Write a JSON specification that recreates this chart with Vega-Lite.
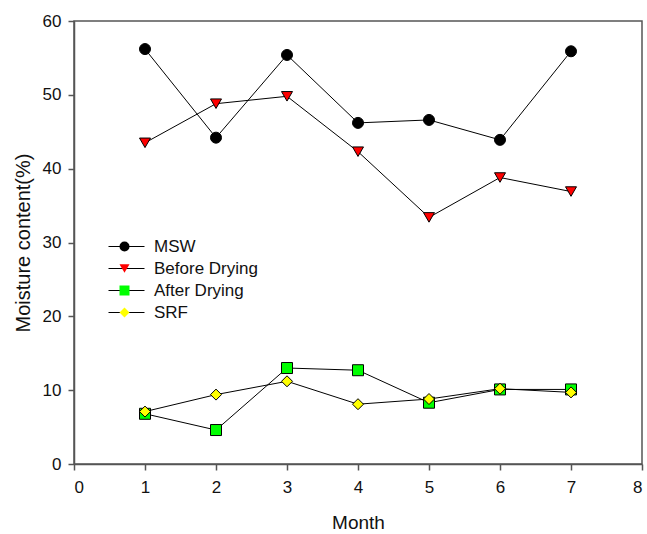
{
  "$schema": "https://vega.github.io/schema/vega-lite/v6.json",
  "width": 568,
  "height": 443,
  "autosize": {"type": "none"},
  "padding": {"left": 74, "top": 21, "right": 5, "bottom": 70},
  "config": {
    "font": "Liberation Sans",
    "view": {"stroke": "#555555", "strokeWidth": 1.5},
    "axis": {
      "grid": false,
      "domainColor": "#555555",
      "domainWidth": 1.5,
      "tickColor": "#555555",
      "tickWidth": 1.5,
      "tickSize": 6,
      "labelFont": "Liberation Sans",
      "labelFontSize": 17,
      "labelColor": "#111111",
      "titleFont": "Liberation Sans",
      "titleFontWeight": "normal",
      "titleColor": "#111111"
    },
    "legend": {
      "orient": "none",
      "padding": 0,
      "rowPadding": 4,
      "labelFont": "Liberation Sans",
      "labelFontSize": 17,
      "labelColor": "#111111"
    }
  },
  "data": {
    "values": [
      {"month": 1, "series": "MSW", "value": 56.2},
      {"month": 2, "series": "MSW", "value": 44.2},
      {"month": 3, "series": "MSW", "value": 55.4},
      {"month": 4, "series": "MSW", "value": 46.2},
      {"month": 5, "series": "MSW", "value": 46.6},
      {"month": 6, "series": "MSW", "value": 43.9},
      {"month": 7, "series": "MSW", "value": 55.9},
      {"month": 1, "series": "Before Drying", "value": 43.5},
      {"month": 2, "series": "Before Drying", "value": 48.8},
      {"month": 3, "series": "Before Drying", "value": 49.8},
      {"month": 4, "series": "Before Drying", "value": 42.3},
      {"month": 5, "series": "Before Drying", "value": 33.4},
      {"month": 6, "series": "Before Drying", "value": 38.8},
      {"month": 7, "series": "Before Drying", "value": 36.9},
      {"month": 1, "series": "After Drying", "value": 6.8},
      {"month": 2, "series": "After Drying", "value": 4.6},
      {"month": 3, "series": "After Drying", "value": 13.0},
      {"month": 4, "series": "After Drying", "value": 12.7},
      {"month": 5, "series": "After Drying", "value": 8.3},
      {"month": 6, "series": "After Drying", "value": 10.1},
      {"month": 7, "series": "After Drying", "value": 10.1},
      {"month": 1, "series": "SRF", "value": 7.1},
      {"month": 2, "series": "SRF", "value": 9.4},
      {"month": 3, "series": "SRF", "value": 11.2},
      {"month": 4, "series": "SRF", "value": 8.1},
      {"month": 5, "series": "SRF", "value": 8.8},
      {"month": 6, "series": "SRF", "value": 10.2},
      {"month": 7, "series": "SRF", "value": 9.7}
    ]
  },
  "encoding": {
    "x": {
      "field": "month",
      "type": "quantitative",
      "scale": {"domain": [0, 8], "nice": false, "zero": false},
      "axis": {
        "values": [0, 1, 2, 3, 4, 5, 6, 7, 8],
        "title": "Month",
        "titleFontSize": 19,
        "titlePadding": 18,
        "labelPadding": 9
      }
    },
    "y": {
      "field": "value",
      "type": "quantitative",
      "scale": {"domain": [0, 60], "nice": false},
      "axis": {
        "values": [0, 10, 20, 30, 40, 50, 60],
        "title": "Moisture content(%)",
        "titleFontSize": 20,
        "titlePadding": 9,
        "labelPadding": 7
      }
    }
  },
  "layer": [
    {
      "mark": {"type": "line", "strokeWidth": 1},
      "encoding": {
        "stroke": {
          "field": "series",
          "type": "nominal",
          "sort": null,
          "scale": {
            "range": ["#000000", "#000000", "#000000", "#000000"]
          },
          "legend": {
            "title": null,
            "legendX": 44,
            "legendY": 217,
            "symbolType": "M-6,0H6",
            "symbolSize": 36,
            "symbolStrokeWidth": 1,
            "labelOffset": 21,
            "labelExpr": "''"
          }
        }
      }
    },
    {
      "mark": {"type": "point", "filled": true, "stroke": "#000000", "strokeWidth": 1, "size": 121, "opacity": 1},
      "encoding": {
        "shape": {
          "field": "series",
          "type": "nominal",
          "scale": {
            "domain": ["MSW", "Before Drying", "After Drying", "SRF"],
            "range": ["circle", "triangle-down", "square", "diamond"]
          },
          "legend": {
            "title": null,
            "legendX": 42,
            "legendY": 217,
            "symbolSize": 100,
            "symbolStrokeColor": "#000000",
            "symbolStrokeWidth": 1,
            "labelOffset": 21
          }
        },
        "fill": {
          "field": "series",
          "type": "nominal",
          "scale": {
            "domain": ["MSW", "Before Drying", "After Drying", "SRF"],
            "range": ["#000000", "#FF0000", "#00FF00", "#FFFF00"]
          },
          "legend": {
            "title": null,
            "legendX": 42,
            "legendY": 217,
            "symbolSize": 100,
            "symbolStrokeColor": "#000000",
            "symbolStrokeWidth": 1,
            "labelOffset": 21
          }
        }
      }
    }
  ]
}
